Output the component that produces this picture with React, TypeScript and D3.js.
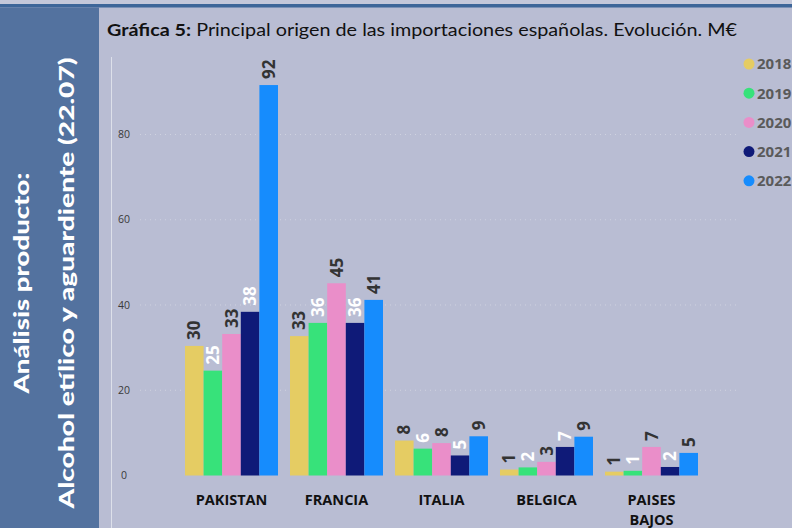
import React from 'react'
import * as d3 from 'd3'

// Gráfica 5: importaciones españolas de alcohol etílico (22.07), M€
const countries = ['PAKISTAN', 'FRANCIA', 'ITALIA', 'BELGICA', 'PAISES BAJOS']
const years = ['2018', '2019', '2020', '2021', '2022']
const colors = ['#e5cc63', '#37e27a', '#ea8ec9', '#0f1a78', '#168cfd']
const labelColors = ['#333333', '#ffffff', '#333333', '#ffffff', '#333333']

const v2018 = [30.4, 32.7, 8.2, 1.4, 0.9]
const v2019 = [24.6, 35.8, 6.3, 1.9, 1.1]
const v2020 = [33.2, 45.1, 7.6, 3.2, 6.7]
const v2021 = [38.4, 35.8, 4.7, 6.7, 2.0]
const v2022 = [91.6, 41.2, 9.2, 9.1, 5.3]
const series = [v2018, v2019, v2020, v2021, v2022]
const yTicks = [0, 20, 40, 60, 80]

const W = 792, H = 528

export default function App() {
  const x0 = d3.scaleBand<string>()
    .domain(countries)
    .range([179, 704])
    .paddingInner(12 / 105)
    .paddingOuter(6 / 105)
  const x1 = d3.scaleBand<string>()
    .domain(years)
    .range([0, x0.bandwidth()])
  const y = d3.scaleLinear().domain([0, 80]).range([475.5, 134.5])
  const fmt = d3.format('.0f')

  return (
    <svg width={W} height={H} style={{ position: 'absolute', left: 0, top: 0 }}>
      <rect x={0} y={0} width={W} height={H} fill="#b9bdd3" />
      <rect x={0} y={0} width={W} height={4} fill="#c4c8da" />
      <rect x={0} y={4} width={W} height={3.5} fill="#3d6699" />
      <rect x={0} y={7.5} width={99} height={H} fill="#53729f" />

      {/* side panel title */}
      <g fontFamily="Lato, 'Open Sans', sans-serif" fontWeight="900" fill="#ffffff" fontSize={21}>
        <text transform="translate(29,283) rotate(-90)" textAnchor="middle" textLength={221} lengthAdjust="spacingAndGlyphs">Análisis producto:</text>
        <text transform="translate(74,283) rotate(-90)" textAnchor="middle" textLength={451} lengthAdjust="spacingAndGlyphs">Alcohol etílico y aguardiente (22.07)</text>
      </g>

      {/* chart title */}
      <text x={107} y={36} fontFamily="Lato, sans-serif" fontSize={17} fill="#111" textLength={630} lengthAdjust="spacingAndGlyphs">
        <tspan fontWeight="bold">Gráfica 5:</tspan>
        <tspan> Principal origen de las importaciones españolas. Evolución. M€</tspan>
      </text>

      {/* axis line */}
      <line x1={111.5} x2={111.5} y1={57} y2={H} stroke="#dde0ea" strokeWidth={1} />

      {/* grid + y ticks */}
      {yTicks.map(t => (
        <g key={t}>
          {t > 0 && (
            <line x1={140} x2={740} y1={y(t)} y2={y(t)} stroke="#cfd2e0" strokeDasharray="1,4" />
          )}
          <text x={124} y={y(t)} dy="0.35em" textAnchor="middle" fontFamily="'Open Sans', sans-serif" fontSize={10.5} fill="#3a3a3a">{t}</text>
        </g>
      ))}

      {/* bars */}
      {countries.map((c, ci) => (
        <g key={c} transform={`translate(${x0(c)},0)`}>
          {years.map((yr, si) => {
            const v = series[si][ci]
            const bx = x1(yr) as number
            const bw = x1.bandwidth()
            return (
              <g key={yr}>
                <rect x={bx} y={y(v)} width={bw} height={y(0) - y(v)} fill={colors[si]} />
                <text
                  transform={`translate(${bx + bw / 2},${y(v) - 6}) rotate(-90)`}
                  dy="0.36em"
                  fontFamily="'Open Sans', sans-serif"
                  fontWeight="bold"
                  fontSize={17}
                  fill={labelColors[si]}
                >{fmt(v)}</text>
              </g>
            )
          })}
        </g>
      ))}

      {/* category labels */}
      {countries.map(c => {
        const words = c === 'PAISES BAJOS' ? ['PAISES', 'BAJOS'] : [c]
        const cx = (x0(c) as number) + x0.bandwidth() / 2
        return (
          <text key={c} x={cx} y={505} textAnchor="middle" fontFamily="'Open Sans', sans-serif" fontWeight="bold" fontSize={14.5} fill="#111">
            {words.map((w, i) => (
              <tspan key={w} x={cx} dy={i === 0 ? 0 : 20}>{w}</tspan>
            ))}
          </text>
        )
      })}

      {/* legend */}
      {years.map((yr, i) => (
        <g key={yr} transform={`translate(749,${64 + i * 29.2})`}>
          <circle r={5.5} fill={colors[i]} />
          <text x={8} dy="0.36em" fontFamily="'Open Sans', sans-serif" fontWeight="bold" fontSize={15} fill="#5a5a5a">{yr}</text>
        </g>
      ))}
    </svg>
  )
}
